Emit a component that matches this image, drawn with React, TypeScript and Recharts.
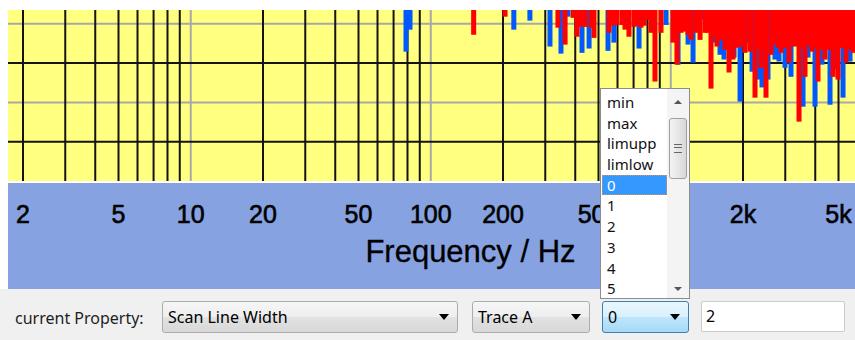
import React from "react";
import { ComposedChart, Bar, XAxis, YAxis, CartesianGrid, Label } from "recharts";

// spectrum levels, [frequency Hz, level dB]
const traceA: [number, number][] = [
  [151, -12.8], [204, -8.2], [339, -11.0], [363, -15.3], [392, -8.5], [407, -13.3],
  [423, -10.8], [440, -10.8], [466, -11.0], [479, -13.6], [553, -12.3], [572, -10.5],
  [597, -10.3], [627, -10.3], [645, -11.5], [670, -13.3], [703, -10.8], [727, -10.5],
  [752, -11.0], [775, -10.5], [797, -9.0], [828, -12.3], [860, -24.7], [911, -12.3],
  [1022, -14.8], [1062, -20.4], [1104, -12.3], [1147, -12.0], [1181, -12.8], [1215, -14.1],
  [1275, -12.3], [1325, -14.1], [1390, -12.3], [1430, -12.3], [1472, -26.5], [1515, -13.3],
  [1559, -15.8], [1620, -14.1], [1684, -16.6], [1750, -22.4], [1818, -19.1], [1890, -16.1],
  [1964, -15.8], [2041, -17.4], [2140, -17.1], [2245, -28.8], [2311, -16.6], [2378, -21.2],
  [2448, -16.6], [2495, -28.8], [2618, -17.9], [2720, -15.3], [2800, -16.1], [2881, -17.4],
  [2994, -16.1], [3111, -19.9], [3202, -15.6], [3296, -15.8], [3425, -34.9], [3525, -16.1],
  [3627, -23.5], [3769, -15.6], [3879, -17.1], [3993, -16.1], [4109, -24.7], [4229, -16.6],
  [4395, -19.1], [4567, -16.6], [4746, -23.5], [4884, -16.6], [4979, -24.2], [5174, -16.1],
  [5376, -19.9], [5533, -16.6], [5749, -17.4],
];

const traceB: [number, number][] = [
  [78.9, -17.1], [82, -11.5], [222, -11.5], [259, -9.2], [314, -15.8], [349, -17.6],
  [373, -8.2], [427, -17.4], [457, -16.3], [548, -16.9], [580, -14.8], [658, -9.0],
  [738, -16.3], [956, -10.3], [1073, -20.4], [1181, -15.3], [1239, -19.9], [1299, -10.3],
  [1337, -9.0], [1530, -14.8], [1605, -17.9], [1668, -19.1], [1836, -18.6], [1945, -29.8],
  [2060, -14.8], [2182, -22.2], [2333, -24.2], [2401, -26.2], [2543, -24.2], [2720, -19.1],
  [2827, -19.6], [2994, -21.2], [3171, -23.5], [3559, -31.1], [3733, -18.6], [3993, -31.1],
  [4270, -20.4], [4611, -30.6], [4838, -21.7], [5224, -28.8], [5586, -19.6],
];

const freqTicks = [2, 5, 10, 20, 50, 100, 200, 500, 1000, 2000, 5000];
const decadeLines = [10, 100, 1000];
const subLines = [
  2, 3, 4, 5, 6, 7, 8, 9, 20, 30, 40, 50, 60, 70, 80, 90,
  200, 300, 400, 500, 600, 700, 800, 900, 2000, 3000, 4000, 5000,
];
const levelGray = [-10, -30];
const levelBlack = [-20, -40];
const freqDomain: [number, number] = [1.732, 5857];
const levelDomain: [number, number] = [-50, -6.5];
const TOP = levelDomain[1];

const listItems = ["min", "max", "limupp", "limlow", "0", "1", "2", "3", "4", "5"];
const selectedItem = "0";

const rows = [
  ...traceB.map(([f, v]) => ({ f, b: v } as { f: number; a?: number; b?: number })),
  ...traceA.map(([f, v]) => ({ f, a: v } as { f: number; a?: number; b?: number })),
];

const fmtFreq = (v: number) => (v >= 1000 ? `${v / 1000}k` : `${v}`);

const spike = (color: string, key: "a" | "b") => (p: any) => {
  if (p.payload[key] == null || !(p.height > 0)) return <g />;
  const cx = p.x + p.width / 2;
  return <rect x={cx - 2.5} y={p.y} width={5} height={p.height} fill={color} />;
};

const UI_FONT = "'Noto Sans', sans-serif";
const AXIS_FONT = "'Liberation Sans', Arial, sans-serif";

function Arrow({ right, top }: { right: number; top: number }) {
  return (
    <span
      style={{
        position: "absolute", right, top, width: 0, height: 0,
        borderLeft: "5px solid transparent", borderRight: "5px solid transparent",
        borderTop: "6px solid #000",
      }}
    />
  );
}

function Combo({ left, width, text, focused }: { left: number; width: number; text: string; focused?: boolean }) {
  return (
    <div
      style={{
        position: "absolute", left, top: 12, width, height: 32, boxSizing: "border-box",
        border: focused ? "1px solid #3c7fb1" : "1px solid #acacac", borderRadius: 3,
        background: focused
          ? "linear-gradient(#eaf6fd, #d9f0fc 50%, #bee6fd 50%, #a7d9f5)"
          : "linear-gradient(#f6f6f6, #eeeeee 50%, #e2e2e2 50%, #d8d8d8)",
        fontSize: 16, lineHeight: "30px", paddingLeft: 5, color: "#000",
      }}
    >
      {text}
      <Arrow right={8} top={12} />
    </div>
  );
}

export default function App() {
  return (
    <div
      style={{
        position: "absolute", left: 0, top: 0, width: 855, height: 340,
        background: "#fff", overflow: "hidden", fontFamily: UI_FONT,
      }}
    >
      <div style={{ position: "absolute", left: 8, top: 183, width: 847, height: 106, background: "#86a2e0" }} />
      <div style={{ position: "absolute", left: 0, top: 0 }}>
        <ComposedChart width={855} height={290} data={rows} margin={{ top: 10, right: 0, bottom: 0, left: 8 }}>
          <CartesianGrid
            xAxisId="a"
            fill="#ffff80"
            fillOpacity={1}
            stroke="#a8a8a8"
            strokeWidth={2}
            horizontalValues={levelGray}
            verticalValues={decadeLines}
          />
          <CartesianGrid
            xAxisId="a"
            stroke="#141414"
            strokeWidth={2}
            horizontalValues={levelBlack}
            verticalValues={subLines}
          />
          <XAxis
            xAxisId="a"
            dataKey="f"
            type="number"
            scale="log"
            domain={freqDomain}
            allowDataOverflow
            ticks={freqTicks}
            interval={0}
            tickFormatter={fmtFreq}
            tickLine={false}
            axisLine={false}
            tickSize={0}
            tickMargin={24}
            height={109}
            tick={{ fontSize: 25, fontFamily: AXIS_FONT, fill: "#000", stroke: "#000", strokeWidth: 0.6 }}
          >
            <Label
              value="Frequency / Hz"
              position="insideTop"
              offset={59}
              dx={39}
              fontSize={31}
              fontFamily={AXIS_FONT}
              fill="#000"
              stroke="#000"
              strokeWidth={0.3}
            />
          </XAxis>
          <XAxis
            xAxisId="b"
            dataKey="f"
            type="number"
            scale="log"
            domain={freqDomain}
            allowDataOverflow
            hide
          />
          <YAxis type="number" domain={levelDomain} allowDataOverflow hide />
          <Bar
            xAxisId="b"
            dataKey={(d: any) => (d.b == null ? [TOP, TOP] : [d.b, TOP])}
            barSize={5}
            fill="#0058ff"
            shape={spike("#0058ff", "b")}
            isAnimationActive={false}
          />
          <Bar
            xAxisId="a"
            dataKey={(d: any) => (d.a == null ? [TOP, TOP] : [d.a, TOP])}
            barSize={5}
            fill="#ff0000"
            shape={spike("#ff0000", "a")}
            isAnimationActive={false}
          />
        </ComposedChart>
      </div>

      <div style={{ position: "absolute", left: 0, top: 289, width: 855, height: 51, background: "#f0f0f0" }}>
        <span style={{ position: "absolute", left: 15, top: 18, fontSize: 16, color: "#1e1e1e", whiteSpace: "nowrap" }}>
          current Property:
        </span>
        <Combo left={162} width={296} text="Scan Line Width" />
        <Combo left={472} width={118} text="Trace A" />
        <Combo left={602} width={87} text="0" focused />
        <div
          style={{
            position: "absolute", left: 701, top: 12, width: 144, height: 31, boxSizing: "border-box",
            border: "1px solid #cbcbcb", borderRadius: 2, background: "#fff",
            fontSize: 16, lineHeight: "29px", paddingLeft: 4, color: "#000",
          }}
        >
          2
        </div>
      </div>

      <div
        style={{
          position: "absolute", left: 600, top: 88, width: 90, height: 211, boxSizing: "border-box",
          border: "1px solid #8c8c8c", background: "#fff", overflow: "hidden",
        }}
      >
        <div style={{ position: "absolute", left: 1, top: 3, width: 65 }}>
          {listItems.map((t) => (
            <div
              key={t}
              style={{
                height: 20.7, lineHeight: "20.7px", paddingLeft: 5, fontSize: 15, boxSizing: "border-box",
                background: t === selectedItem ? "#3399ff" : "transparent",
                color: t === selectedItem ? "#fff" : "#111",
                outline: t === selectedItem ? "1px dotted #d9905a" : "none",
                outlineOffset: -1,
              }}
            >
              {t}
            </div>
          ))}
        </div>
        <div style={{ position: "absolute", left: 66, top: 0, width: 22, height: 209, background: "#f4f4f4" }}>
          <span
            style={{
              position: "absolute", left: 7, top: 11, width: 0, height: 0,
              borderLeft: "4px solid transparent", borderRight: "4px solid transparent",
              borderBottom: "4px solid #555",
            }}
          />
          <div
            style={{
              position: "absolute", left: 2, top: 29, width: 18, height: 61, boxSizing: "border-box",
              border: "1px solid #a0a0a0", borderRadius: 3,
              background: "linear-gradient(90deg, #f4f4f4, #e6e6e6 50%, #d8d8d8)",
            }}
          >
            <div style={{ position: "absolute", left: 4, top: 25, width: 8, height: 7, borderTop: "1px solid #666", borderBottom: "1px solid #666" }} />
            <div style={{ position: "absolute", left: 4, top: 28, width: 8, height: 0, borderTop: "1px solid #666" }} />
          </div>
          <span
            style={{
              position: "absolute", left: 7, top: 198, width: 0, height: 0,
              borderLeft: "4px solid transparent", borderRight: "4px solid transparent",
              borderTop: "4px solid #555",
            }}
          />
        </div>
      </div>
    </div>
  );
}
